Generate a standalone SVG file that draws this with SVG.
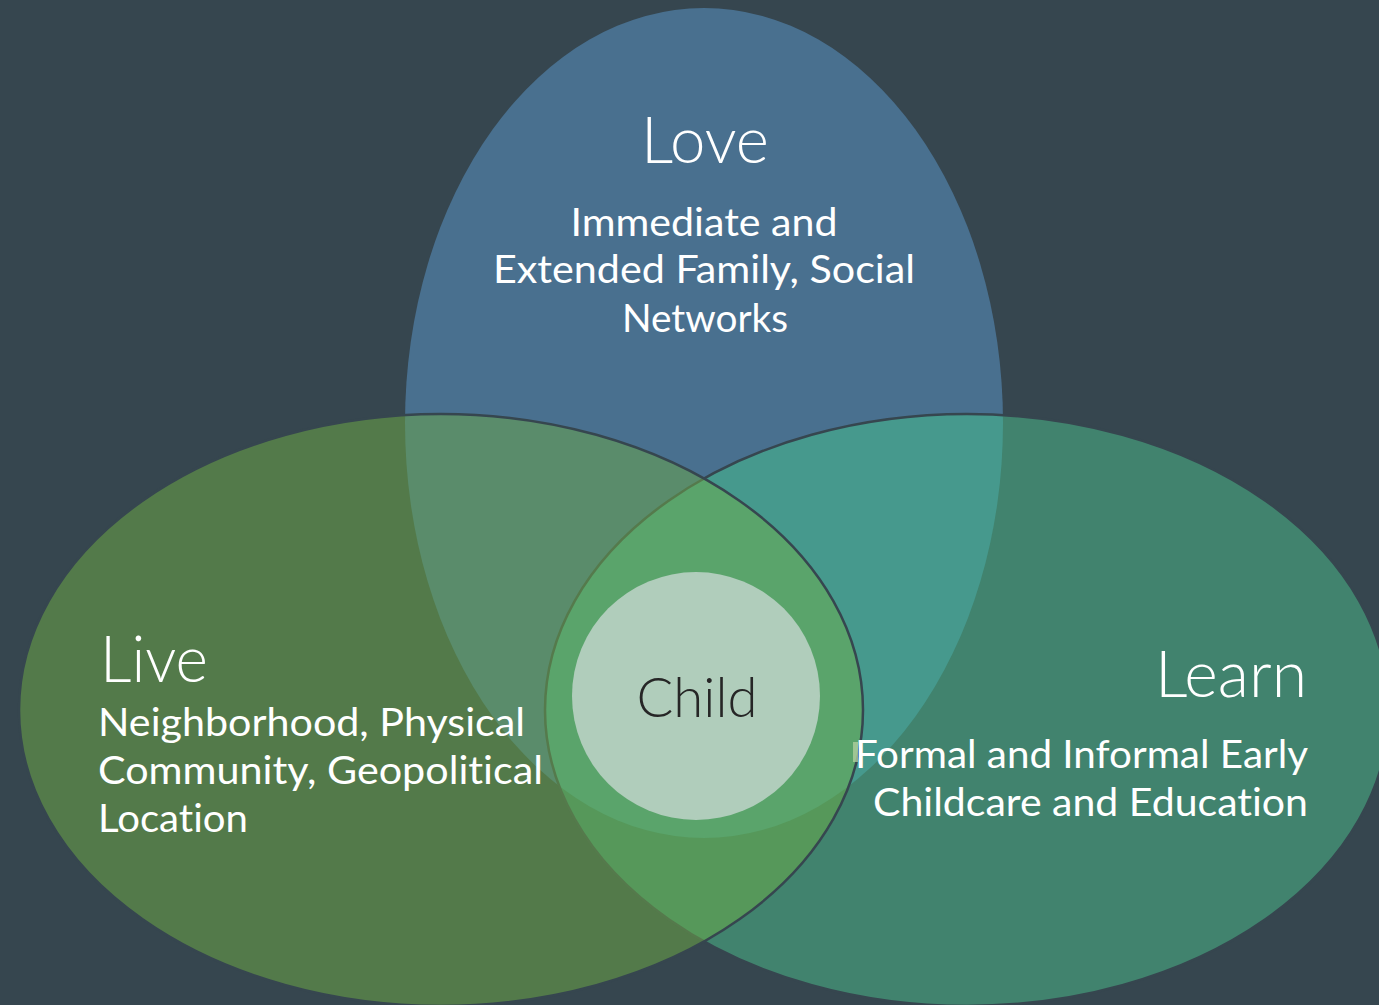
<svg xmlns="http://www.w3.org/2000/svg" width="1379" height="1005" viewBox="0 0 1379 1005">
  <style>
    .t { font-family: Lato, "Open Sans", "Liberation Sans", sans-serif; font-weight: 400; fill: #ffffff; font-variant-ligatures: none; }
    .title { font-size: 65px; font-weight: 300; }
    .body { font-size: 38px; }
    .child { font-family: Lato, "Open Sans", "Liberation Sans", sans-serif; font-weight: 300; font-size: 56px; fill: #262626; font-variant-ligatures: none; }
  </style>
  <defs>
    <ellipse id="eT" cx="704" cy="423" rx="299" ry="415"/>
    <ellipse id="eL" cx="441" cy="710" rx="422" ry="296"/>
    <ellipse id="eR" cx="967" cy="710" rx="422" ry="296"/>
    <clipPath id="cT"><use href="#eT"/></clipPath>
    <clipPath id="cL"><use href="#eL"/></clipPath>
    <clipPath id="cR"><use href="#eR"/></clipPath>
    <clipPath id="cOutL"><path d="M0 0H1379V1005H0Z M19 710 A422 296 0 0 0 863 710 A422 296 0 0 0 19 710Z" clip-rule="evenodd"/></clipPath>
  </defs>
  <rect width="1379" height="1005" fill="#36464f"/>

  <g id="love">
    <use href="#eT" fill="#49708f"/>
  </g>
  <g id="live">
    <use href="#eL" fill="#537a4a"/>
  </g>
  <g id="learn">
    <use href="#eR" fill="#41836e"/>
  </g>

  <g id="overlaps">
    <g clip-path="url(#cT)">
      <use href="#eL" fill="#5a8c6b"/>
      <use href="#eR" fill="#46998d"/>
    </g>
    <g clip-path="url(#cL)">
      <use href="#eR" fill="#56985a"/>
      <g clip-path="url(#cT)">
        <use href="#eR" fill="#5aa46b"/>
      </g>
    </g>
  </g>

  <g id="outlines" fill="none">
    <g clip-path="url(#cL)">
      <use href="#eR" stroke="#557a4c" stroke-width="2.5"/>
    </g>
    <g clip-path="url(#cOutL)">
      <use href="#eR" stroke="#36464f" stroke-width="2.5"/>
    </g>
    <use href="#eL" stroke="#36464f" stroke-width="2.5"/>
  </g>

  <g id="child">
    <circle cx="696" cy="696" r="124" fill="#b0cdbb"/>
    <text class="child" x="697" y="717" text-anchor="middle" textLength="121" lengthAdjust="spacingAndGlyphs">Child</text>
  </g>

  <g id="love-text" class="t">
    <text class="title" x="705" y="163" text-anchor="middle" textLength="128" lengthAdjust="spacingAndGlyphs">Love</text>
    <text class="body" x="704" y="236" text-anchor="middle" textLength="267" lengthAdjust="spacingAndGlyphs">Immediate and</text>
    <text class="body" x="704" y="283" text-anchor="middle" textLength="422" lengthAdjust="spacingAndGlyphs">Extended Family, Social</text>
    <text class="body" x="705" y="332" text-anchor="middle" textLength="166" lengthAdjust="spacingAndGlyphs">Networks</text>
  </g>

  <g id="live-text" class="t">
    <text class="title" x="100" y="682" textLength="108" lengthAdjust="spacingAndGlyphs">Live</text>
    <text class="body" x="98" y="736" textLength="427" lengthAdjust="spacingAndGlyphs">Neighborhood, Physical</text>
    <text class="body" x="98" y="784" textLength="445" lengthAdjust="spacingAndGlyphs">Community, Geopolitical</text>
    <text class="body" x="98" y="832" textLength="150" lengthAdjust="spacingAndGlyphs">Location</text>
  </g>

  <g id="learn-text" class="t">
    <text class="title" x="1307" y="697" text-anchor="end" textLength="152" lengthAdjust="spacingAndGlyphs">Learn</text>
    <text class="body" x="1308" y="768" text-anchor="end" textLength="453" lengthAdjust="spacingAndGlyphs">Formal and Informal Early</text>
    <text class="body" x="1308" y="816" text-anchor="end" textLength="435" lengthAdjust="spacingAndGlyphs">Childcare and Education</text>
  </g>
  <rect x="853" y="742" width="5" height="20" fill="#b5d2a2" opacity="0.75"/>
</svg>
